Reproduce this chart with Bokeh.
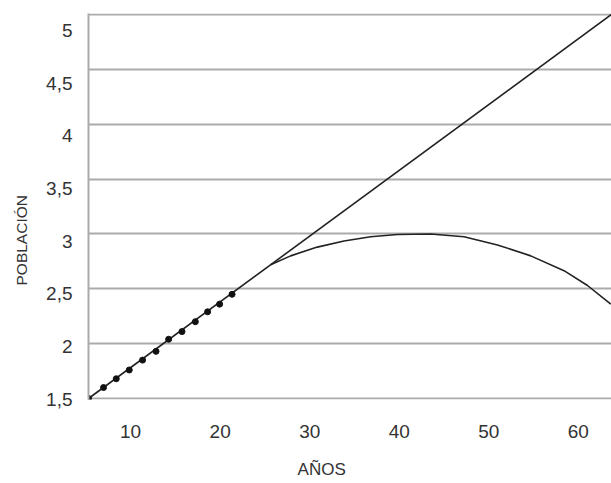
from bokeh.plotting import figure
from bokeh.models import Range1d, LinearAxis, FixedTicker, Title
from bokeh.embed import file_html
from bokeh.resources import INLINE

# ---- data ----
x_ticks = [10, 20, 30, 40, 50, 60]
x_tick_labels = ["10", "20", "30", "40", "50", "60"]
y_ticks = [1.5, 2, 2.5, 3, 3.5, 4, 4.5, 5]
y_tick_labels = ["1,5", "2", "2,5", "3", "3,5", "4", "4,5", "5"]

years_trend = [5.3, 63.7]
pop_trend = [1.5, 5.0]

years_obs = [5.3, 6.98, 8.4, 9.85, 11.34, 12.84, 14.25, 15.74, 17.23, 18.6, 19.94, 21.33]
pop_obs = [1.5, 1.60, 1.68, 1.76, 1.85, 1.93, 2.04, 2.11, 2.20, 2.29, 2.36, 2.45]

years_curve = [25.64, 27.87, 30.85, 33.83, 36.81, 39.79, 43.51, 47.23, 50.97, 54.68, 58.40, 61.02, 63.62]
pop_curve = [2.72, 2.80, 2.88, 2.935, 2.975, 2.995, 3.0, 2.975, 2.90, 2.80, 2.665, 2.53, 2.36]

TEXT = "#333333"
GRID = "#ababab"
FONT = "Liberation Sans"

p = figure(width=611, height=483, output_backend="svg", toolbar_location=None,
           x_range=Range1d(5.3, 63.7), y_range=Range1d(1.491, 5.009),
           min_border_left=88, min_border_right=0, min_border_top=13, min_border_bottom=84)
p.outline_line_color = None
p.background_fill_color = "white"
p.border_fill_color = "white"

# grid
p.xgrid.visible = False
p.ygrid.ticker = FixedTicker(ticks=y_ticks)
p.ygrid.grid_line_color = GRID
p.ygrid.grid_line_width = 2

# x axis (title sits left of centre in the reference: padded with no-break spaces)
xa = p.xaxis[0]
xa.ticker = FixedTicker(ticks=x_ticks)
xa.major_label_overrides = {t: l for t, l in zip(x_ticks, x_tick_labels)}
xa.axis_line_color = None
xa.major_tick_line_color = None
xa.minor_tick_line_color = None
xa.major_tick_out = 0
xa.major_tick_in = 0
xa.major_label_standoff = 25
xa.major_label_text_font = FONT
xa.major_label_text_font_size = "19px"
xa.major_label_text_color = TEXT
xa.axis_label = "AÑOS" + "\u00a0" * 12
xa.axis_label_standoff = 19
xa.axis_label_text_font = FONT
xa.axis_label_text_font_size = "17px"
xa.axis_label_text_font_style = "normal"
xa.axis_label_text_color = TEXT

# y axis: labels sit on their own (slightly different) scale as in the reference
p.yaxis[0].visible = False
p.extra_y_ranges = {"lab": Range1d(1.497, 5.161)}
ya = LinearAxis(y_range_name="lab")
ya.ticker = FixedTicker(ticks=y_ticks)
ya.major_label_overrides = {t: l for t, l in zip(y_ticks, y_tick_labels)}
ya.axis_line_color = GRID
ya.axis_line_width = 2
ya.major_tick_line_color = None
ya.minor_tick_line_color = None
ya.major_tick_out = 0
ya.major_tick_in = 0
ya.major_label_standoff = 16
ya.major_label_text_font = FONT
ya.major_label_text_font_size = "19px"
ya.major_label_text_color = TEXT
p.add_layout(ya, "left")

# data
p.line(years_trend, pop_trend, line_color="#222222", line_width=1.6)
p.line(years_curve, pop_curve, line_color="#222222", line_width=1.6)
p.scatter(years_obs, pop_obs, size=6, fill_color="#111111", line_color="#111111")

# y title (off-centre as in the reference)
p.add_layout(Title(text="POBLACIÓN", align="left", offset=114, standoff=24, vertical_align="top",
                   text_font=FONT, text_font_size="15.5px", text_font_style="normal",
                   text_color=TEXT), "left")

open("out.html", "w").write(file_html(p, INLINE))
